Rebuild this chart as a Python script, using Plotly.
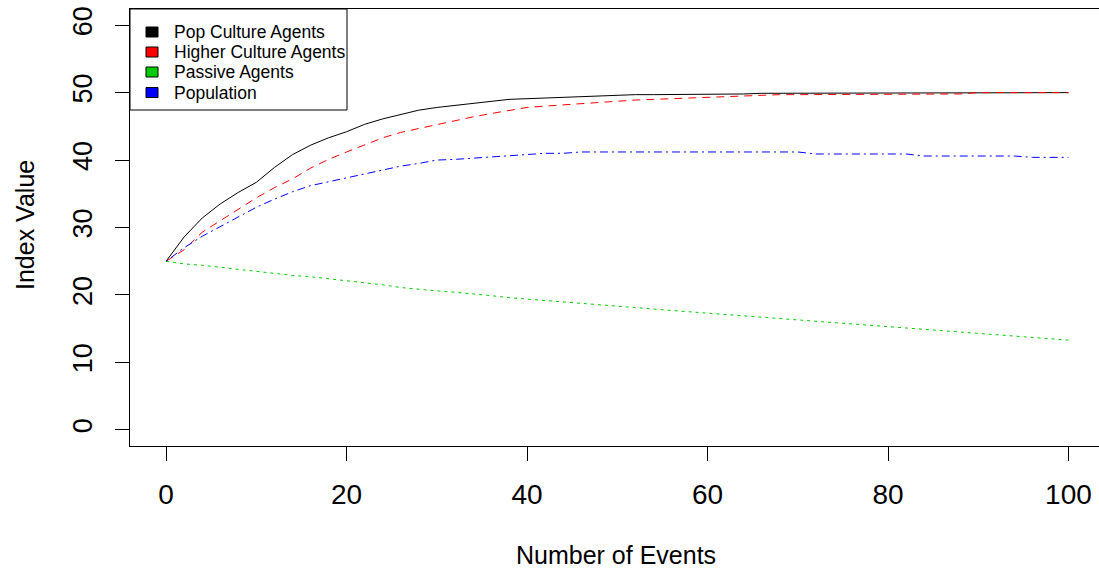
import plotly.graph_objects as go

events = list(range(0, 101, 2))

pop_culture = [25.0, 28.6, 31.4, 33.5, 35.2, 36.7, 38.9, 40.8, 42.2, 43.3,
               44.2, 45.3, 46.1, 46.8, 47.4, 47.8, 48.1, 48.5, 48.8, 49.0,
               49.1, 49.2, 49.4, 49.5, 49.6, 49.6, 49.7, 49.7, 49.7, 49.7,
               49.8, 49.8, 49.8, 49.9, 49.9, 49.9, 49.9, 49.9, 49.9, 49.9,
               49.9, 49.9, 49.9, 49.9, 49.9, 50.0, 50.0, 50.0, 50.0, 50.0, 50.0]

higher_culture = [25.0, 26.7, 29.3, 31.0, 32.8, 34.4, 35.9, 37.2, 38.8, 40.1,
                  41.2, 42.3, 43.3, 44.1, 44.7, 45.3, 45.9, 46.4, 46.9, 47.4,
                  47.8, 48.0, 48.2, 48.4, 48.5, 48.7, 48.9, 49.0, 49.1, 49.2,
                  49.3, 49.4, 49.6, 49.6, 49.7, 49.7, 49.7, 49.7, 49.7, 49.8,
                  49.8, 49.8, 49.8, 49.8, 49.8, 50.0, 50.0, 50.0, 50.0, 50.0, 50.0]

passive = [25.0, 24.6, 24.4, 24.1, 23.7, 23.4, 23.2, 22.9, 22.7, 22.4,
           22.1, 21.9, 21.5, 21.1, 20.8, 20.6, 20.4, 20.2, 19.9, 19.6,
           19.4, 19.2, 19.0, 18.8, 18.6, 18.4, 18.1, 17.9, 17.7, 17.5,
           17.3, 17.1, 16.9, 16.7, 16.5, 16.3, 16.1, 15.9, 15.7, 15.5,
           15.3, 15.1, 14.9, 14.7, 14.5, 14.3, 14.2, 14.0, 13.8, 13.6, 13.3]

population = [25.0, 27.0, 28.7, 30.1, 31.6, 33.0, 34.2, 35.3, 36.2, 36.8,
              37.4, 38.0, 38.6, 39.1, 39.5, 40.0, 40.1, 40.3, 40.5, 40.6,
              40.8, 41.0, 41.0, 41.2, 41.2, 41.2, 41.2, 41.2, 41.2, 41.2,
              41.2, 41.2, 41.2, 41.2, 41.2, 41.2, 40.9, 40.9, 40.9, 40.9,
              40.9, 40.9, 40.6, 40.6, 40.6, 40.6, 40.6, 40.6, 40.4, 40.4, 40.4]

series_names = ["Pop Culture Agents", "Higher Culture Agents", "Passive Agents", "Population"]
series_colors = ["#000000", "#FF0000", "#00CD00", "#0000FF"]
series_dash = ["solid", "8px,6px", "3px,4px", "2px,4px,8px,4px"]
x_ticks = [0, 20, 40, 60, 80, 100]
y_ticks = [0, 10, 20, 30, 40, 50, 60]

FONT = "Liberation Sans, Arial, sans-serif"

fig = go.Figure()
for name, vals, col, dash in zip(series_names,
                                 [pop_culture, higher_culture, passive, population],
                                 series_colors, series_dash):
    fig.add_trace(go.Scatter(x=events, y=vals, mode="lines", name=name,
                             line=dict(color=col, width=1, dash=dash),
                             showlegend=False, hoverinfo="skip"))

# plot area in pixels: x 130..1105 (extends past the 1099px window), y 9..446
FIG_W = 1105
L, R, T, B = 130, FIG_W, 9, 446
W, H = R - L, B - T

def px(x):
    return (x - L) / W

def py(y):
    return (B - y) / H

shapes = []
annotations = []
# legend box
shapes.append(dict(type="rect", xref="paper", yref="paper",
                   x0=px(130), x1=px(347), y0=py(110), y1=py(9),
                   line=dict(color="#000000", width=1), fillcolor="white", layer="above"))
row_y = [32, 52, 72, 92.5]
for name, col, yy in zip(series_names, series_colors, row_y):
    shapes.append(dict(type="rect", xref="paper", yref="paper",
                       x0=px(146), x1=px(158), y0=py(yy + 5), y1=py(yy - 5),
                       line=dict(color="#000000", width=1), fillcolor=col, layer="above"))
    annotations.append(dict(text=name, xref="paper", yref="paper", x=px(172), y=py(yy),
                            xanchor="left", yanchor="middle", showarrow=False,
                            font=dict(family=FONT, size=17.5, color="#000000")))

annotations.append(dict(text="Number of Events", xref="paper", yref="paper",
                        x=px(616), y=py(555), xanchor="center", yanchor="middle",
                        showarrow=False, font=dict(family=FONT, size=25, color="#000000")))
annotations.append(dict(text="Index Value", xref="paper", yref="paper",
                        x=px(25), y=py(225), xanchor="center", yanchor="middle",
                        textangle=-90, showarrow=False,
                        font=dict(family=FONT, size=25, color="#000000")))

fig.update_layout(
    width=FIG_W, height=570,
    margin=dict(l=L, r=0, t=T, b=570 - B, pad=0),
    paper_bgcolor="white", plot_bgcolor="white",
    showlegend=False,
    shapes=shapes, annotations=annotations,
    xaxis=dict(range=[-4, (R - 166.5) / 9.02], tickvals=x_ticks,
               ticktext=[str(v) for v in x_ticks],
               showgrid=False, zeroline=False, showline=True, mirror=True,
               linecolor="#000000", linewidth=1,
               ticks="outside", ticklen=14, tickcolor="#000000", tickwidth=1,
               ticklabelstandoff=9,
               tickfont=dict(family=FONT, size=28, color="#000000")),
    yaxis=dict(range=[-2.4, 62.4], tickvals=y_ticks,
               ticktext=[str(v) for v in y_ticks],
               showgrid=False, zeroline=False, showline=True, mirror=True,
               linecolor="#000000", linewidth=1,
               ticks="outside", ticklen=14, tickcolor="#000000", tickwidth=1,
               tickangle=-90, ticklabelstandoff=12,
               tickfont=dict(family=FONT, size=27, color="#000000")),
)

fig.write_html("out.html", config={"displayModeBar": False},
               post_script="document.body.style.margin='0';document.body.style.overflow='hidden';")
